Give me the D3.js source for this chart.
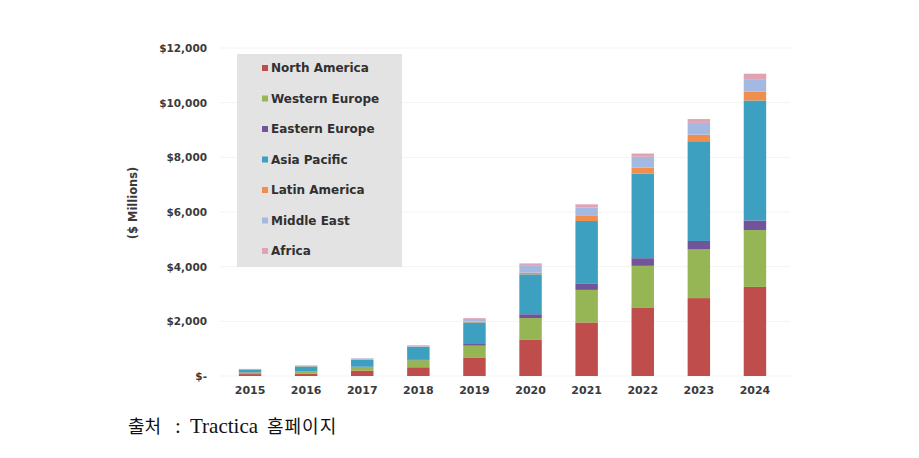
<!DOCTYPE html>
<html>
<head>
<meta charset="utf-8">
<script src="https://cdn.jsdelivr.net/npm/d3@7"></script>
<style>
  html, body { margin: 0; padding: 0; background: #ffffff; }
  svg { display: block; }
</style>
</head>
<body>
<svg id="chart" width="919" height="458"></svg>
<script>
const years = ["2015","2016","2017","2018","2019","2020","2021","2022","2023","2024"];
const seriesNames = ["North America","Western Europe","Eastern Europe","Asia Pacific","Latin America","Middle East","Africa"];
const northAmerica  = [70, 90, 200, 320, 680, 1320, 1960, 2510, 2850, 3260];
const westernEurope = [60, 70, 120, 260, 430, 800, 1190, 1520, 1780, 2080];
const easternEurope = [10, 10, 20, 30, 60, 140, 240, 280, 310, 350];
const asiaPacific   = [100, 180, 260, 460, 790, 1460, 2280, 3090, 3650, 4390];
const latinAmerica  = [5, 10, 10, 10, 30, 60, 210, 220, 240, 330];
const middleEast    = [10, 20, 30, 40, 100, 250, 280, 400, 430, 450];
const africa        = [5, 10, 10, 10, 30, 90, 120, 120, 140, 200];
const yTicks = [0, 2000, 4000, 6000, 8000, 10000, 12000];
const yTitle = "($ Millions)";
const captionParts = ["출처", ":", "Tractica", "홈페이지"];

const seriesValues = [northAmerica, westernEurope, easternEurope, asiaPacific, latinAmerica, middleEast, africa];
const colors = ["#bf4d4b", "#96b655", "#71549a", "#3ea0c0", "#f08f4d", "#a4b9e2", "#e0a3b3"];

const table = years.map((y, i) => {
  const row = { year: y };
  seriesNames.forEach((s, k) => row[s] = seriesValues[k][i]);
  return row;
});
const stacked = d3.stack().keys(seriesNames)(table);

const svg = d3.select("#chart");
const x = d3.scaleBand().domain(years).range([222, 783]).paddingInner(0.6).paddingOuter(0.3);
const y = d3.scaleLinear().domain([0, 12000]).range([376, 48]);

const font = "'DejaVu Sans', Verdana, sans-serif";
const textColor = "#3a3a3a";

// faint gridlines
svg.append("g").selectAll("line").data(yTicks).join("line")
  .attr("x1", 220).attr("x2", 790)
  .attr("y1", d => y(d)).attr("y2", d => y(d))
  .attr("stroke", "#f3f3f3").attr("stroke-width", 1);

// y axis
const yAxis = svg.append("g").attr("transform", "translate(207,0)")
  .call(d3.axisLeft(y).tickValues(yTicks).tickSize(0).tickPadding(0)
    .tickFormat(d => d === 0 ? "$-" : "$" + d3.format(",")(d)));
yAxis.select(".domain").remove();
yAxis.selectAll("text").attr("font-family", font).attr("font-weight", "bold")
  .attr("font-size", "10.5px").attr("fill", textColor);

// x axis
const xAxis = svg.append("g").attr("transform", "translate(0,386)")
  .call(d3.axisBottom(x).tickSize(0).tickPadding(0));
xAxis.select(".domain").remove();
xAxis.selectAll("text").attr("font-family", font).attr("font-weight", "bold")
  .attr("font-size", "11px").attr("fill", textColor);

// bars
svg.append("g").selectAll("g").data(stacked).join("g")
  .attr("fill", (d, i) => colors[i])
  .selectAll("rect").data(d => d).join("rect")
  .attr("x", d => x(d.data.year))
  .attr("width", x.bandwidth())
  .attr("y", d => y(d[1]))
  .attr("height", d => y(d[0]) - y(d[1]));

// legend
const legend = svg.append("g");
legend.append("rect").attr("x", 237).attr("y", 54).attr("width", 165).attr("height", 213)
  .attr("fill", "#e3e3e3");
const items = legend.selectAll("g.item").data(seriesNames).join("g")
  .attr("class", "item")
  .attr("transform", (d, i) => `translate(0,${68 + i * 30.5})`);
items.append("rect").attr("x", 262).attr("y", -3).attr("width", 6).attr("height", 6)
  .attr("fill", (d, i) => colors[i]);
items.append("text").attr("x", 271).attr("y", 0).attr("dy", "0.36em")
  .attr("font-family", font).attr("font-weight", "bold").attr("font-size", "12px")
  .attr("fill", "#303030").text(d => d);

// y title
svg.append("text").attr("transform", "translate(137,203) rotate(-90)")
  .attr("text-anchor", "middle")
  .attr("font-family", font).attr("font-weight", "bold").attr("font-size", "11.5px")
  .attr("fill", textColor).text(yTitle);

// caption
const cjk = "'Noto Sans CJK KR', sans-serif";
const serif = "'Liberation Serif', serif";
const cap = svg.append("text").attr("y", 433).attr("fill", "#111111");
cap.append("tspan").attr("x", 128).attr("font-family", cjk).attr("font-size", "18px").text(captionParts[0]);
cap.append("tspan").attr("x", 175).attr("font-family", serif).attr("font-size", "21px").text(captionParts[1]);
cap.append("tspan").attr("x", 190).attr("font-family", serif).attr("font-size", "21px").text(captionParts[2]);
cap.append("tspan").attr("x", 267).attr("font-family", cjk).attr("font-size", "18px")
  .attr("letter-spacing", "1px").text(captionParts[3]);
</script>
</body>
</html>
